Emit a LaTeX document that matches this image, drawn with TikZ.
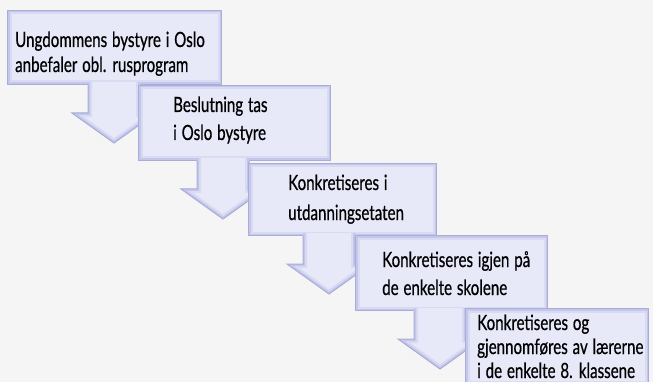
\documentclass[tikz,border=0pt]{standalone}
\usepackage{fontspec}
\setmainfont{Lato}[FakeStretch=0.72,FakeBold=0.6,WordSpace=1.25]
\usetikzlibrary{calc,positioning}

\definecolor{pagebg}{HTML}{F5F5F5}
\definecolor{stepfill}{HTML}{E7E9F8}
\definecolor{stepedge}{HTML}{A9ADD9}
\definecolor{glowa}{HTML}{D9DBF2}
\definecolor{glowb}{HTML}{C4C7E9}

\begin{document}
\begin{tikzpicture}[x=1pt,y=-1pt,
    stepbox/.style={rectangle, fill=stepfill, draw=stepedge, line width=1pt, anchor=north west, inner sep=0pt,
      path picture={
        \draw[glowa, line width=8pt] (path picture bounding box.south west) rectangle (path picture bounding box.north east);
        \draw[glowb, line width=4pt] (path picture bounding box.south west) rectangle (path picture bounding box.north east);}},
    steptext/.style={anchor=base west, align=left, inner sep=0pt, font=\fontsize{21}{#1}\selectfont},
    steptext/.default=25,
    arrowfill/.style={fill=stepfill},
    arrowglow/.style={draw=glowa, line width=8pt},
    arrowglowb/.style={draw=glowb, line width=4pt},
    arrowline/.style={draw=stepedge, line width=1pt, line join=miter}]

   % \draw[help lines] (0,0) grid[step=20] (653,382);
   \fill[pagebg] (0,0) rectangle (653,382);
   \useasboundingbox (0,0) rectangle (653,382);

   \node [stepbox, minimum width=214pt, minimum height=74pt] (s1) at (7,10) {};
   \node [steptext=25] (t1) at (15,72) {Ungdommens bystyre i Oslo\\anbefaler obl. rusprogram};

   \fill[arrowfill] ($(s1.south east)+(-134,-3)$) -- ++(0,31) -- ++(-16,0) -- ++(42,30) -- ++(42,-30) -- ++(-16,0) -- ++(0,-31) -- cycle;
   \begin{scope}
     \clip ($(s1.south east)+(-134,-3)$) -- ++(0,31) -- ++(-16,0) -- ++(42,30) -- ++(42,-30) -- ++(-16,0) -- ++(0,-31) -- cycle;
     \draw[arrowglow] ($(s1.south east)+(-134,-4)$) -- ++(0,32) -- ++(-16,0) -- ++(42,30) -- ++(42,-30) -- ++(-16,0) -- ++(0,-32);
     \draw[arrowglowb] ($(s1.south east)+(-134,-4)$) -- ++(0,32) -- ++(-16,0) -- ++(42,30) -- ++(42,-30) -- ++(-16,0) -- ++(0,-32);
   \end{scope}
   \draw[arrowline] ($(s1.south east)+(-134,0)$) -- ++(0,28) -- ++(-16,0) -- ++(42,30) -- ++(42,-30) -- ++(-16,0) -- ++(0,-28);

   \node [stepbox, minimum width=192pt, minimum height=75pt] (s2) at (138,85) {};
   \node [steptext=28] (t2) at (173,140) {Beslutning tas\\i Oslo bystyre};

   \fill[arrowfill] ($(s2.south east)+(-134,-3)$) -- ++(0,31) -- ++(-16,0) -- ++(42,30) -- ++(42,-30) -- ++(-16,0) -- ++(0,-31) -- cycle;
   \begin{scope}
     \clip ($(s2.south east)+(-134,-3)$) -- ++(0,31) -- ++(-16,0) -- ++(42,30) -- ++(42,-30) -- ++(-16,0) -- ++(0,-31) -- cycle;
     \draw[arrowglow] ($(s2.south east)+(-134,-4)$) -- ++(0,32) -- ++(-16,0) -- ++(42,30) -- ++(42,-30) -- ++(-16,0) -- ++(0,-32);
     \draw[arrowglowb] ($(s2.south east)+(-134,-4)$) -- ++(0,32) -- ++(-16,0) -- ++(42,30) -- ++(42,-30) -- ++(-16,0) -- ++(0,-32);
   \end{scope}
   \draw[arrowline] ($(s2.south east)+(-134,0)$) -- ++(0,28) -- ++(-16,0) -- ++(42,30) -- ++(42,-30) -- ++(-16,0) -- ++(0,-28);

   \node [stepbox, minimum width=188pt, minimum height=72pt] (s3) at (248,163) {};
   \node [steptext=30] (t3) at (288,220) {Konkretiseres i\\utdanningsetaten};

   \fill[arrowfill] ($(s3.south east)+(-134,-3)$) -- ++(0,31) -- ++(-16,0) -- ++(42,30) -- ++(42,-30) -- ++(-16,0) -- ++(0,-31) -- cycle;
   \begin{scope}
     \clip ($(s3.south east)+(-134,-3)$) -- ++(0,31) -- ++(-16,0) -- ++(42,30) -- ++(42,-30) -- ++(-16,0) -- ++(0,-31) -- cycle;
     \draw[arrowglow] ($(s3.south east)+(-134,-4)$) -- ++(0,32) -- ++(-16,0) -- ++(42,30) -- ++(42,-30) -- ++(-16,0) -- ++(0,-32);
     \draw[arrowglowb] ($(s3.south east)+(-134,-4)$) -- ++(0,32) -- ++(-16,0) -- ++(42,30) -- ++(42,-30) -- ++(-16,0) -- ++(0,-32);
   \end{scope}
   \draw[arrowline] ($(s3.south east)+(-134,0)$) -- ++(0,28) -- ++(-16,0) -- ++(42,30) -- ++(42,-30) -- ++(-16,0) -- ++(0,-28);

   \node [stepbox, minimum width=192pt, minimum height=75pt] (s4) at (355,235) {};
   \node [steptext=28] (t4) at (382,295) {Konkretiseres igjen på\\de enkelte skolene};

   \fill[arrowfill] ($(s4.south east)+(-134,-3)$) -- ++(0,31) -- ++(-16,0) -- ++(42,30) -- ++(42,-30) -- ++(-16,0) -- ++(0,-31) -- cycle;
   \begin{scope}
     \clip ($(s4.south east)+(-134,-3)$) -- ++(0,31) -- ++(-16,0) -- ++(42,30) -- ++(42,-30) -- ++(-16,0) -- ++(0,-31) -- cycle;
     \draw[arrowglow] ($(s4.south east)+(-134,-4)$) -- ++(0,32) -- ++(-16,0) -- ++(42,30) -- ++(42,-30) -- ++(-16,0) -- ++(0,-32);
     \draw[arrowglowb] ($(s4.south east)+(-134,-4)$) -- ++(0,32) -- ++(-16,0) -- ++(42,30) -- ++(42,-30) -- ++(-16,0) -- ++(0,-32);
   \end{scope}
   \draw[arrowline] ($(s4.south east)+(-134,0)$) -- ++(0,28) -- ++(-16,0) -- ++(42,30) -- ++(42,-30) -- ++(-16,0) -- ++(0,-28);

   \node [stepbox, minimum width=183pt, minimum height=76pt] (s5) at (465,308) {};
   \node [steptext=24] (t5) at (477,378) {Konkretiseres og\\gjennomføres av lærerne\\i de enkelte 8. klassene};

\end{tikzpicture}
\end{document}
